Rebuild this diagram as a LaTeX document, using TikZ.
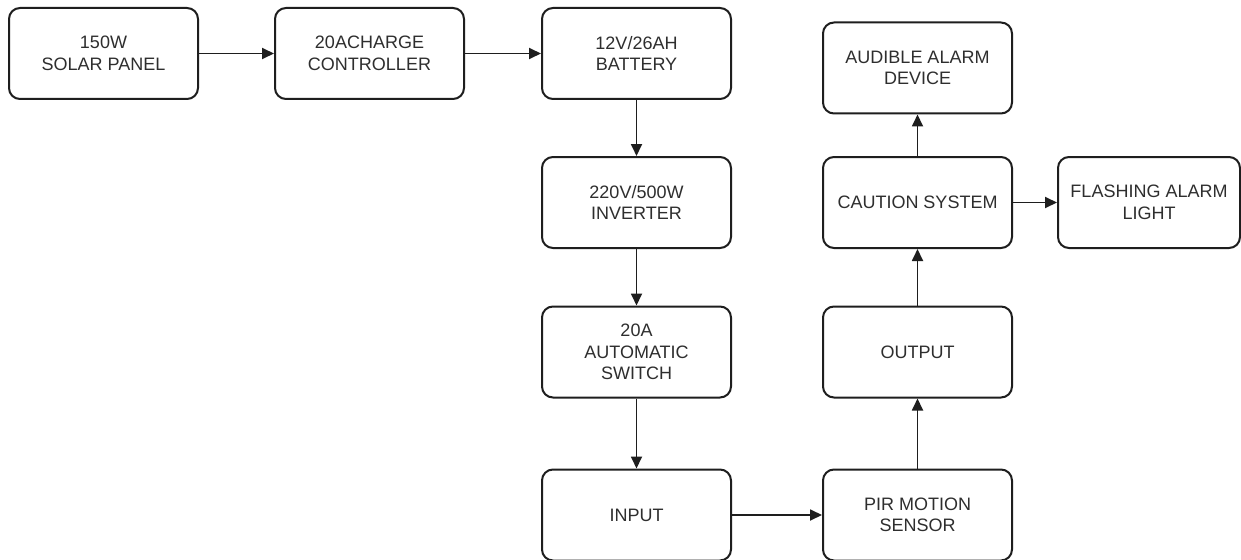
\documentclass[tikz,border=0pt]{standalone}
\usepackage{fontspec}
\setmainfont{Liberation Sans}
\usetikzlibrary{arrows.meta}
\definecolor{txt}{HTML}{2E2E2E}
\definecolor{ln}{HTML}{1E1E1E}
\begin{document}
\begin{tikzpicture}[x=1pt,y=-1pt,
  blk/.style={draw=ln, line width=2pt, rounded corners=11pt, minimum width=189pt, minimum height=91pt,
    align=center, text=txt, font=\fontsize{18}{21.5}\selectfont, inner sep=2pt},
  arr/.style={draw=ln, line width=1.8pt, -{Triangle[length=12pt,width=11pt]}}]
\useasboundingbox (0,0) rectangle (1241,559);
\fill[white] (0,0) rectangle (1241,559);
\node[blk] (solar) at (103.5,53.5) {150W\\SOLAR PANEL};
\node[blk] (ctrl) at (369.5,53.5) {20ACHARGE\\CONTROLLER};
\node[blk] (batt) at (636.5,53.5) {12V/26AH\\BATTERY};
\node[blk] (inv) at (636.5,202.5) {220V/500W\\INVERTER};
\node[blk] (sw) at (636.5,352) {20A\\AUTOMATIC\\SWITCH};
\node[blk] (in) at (636.5,515) {INPUT};
\node[blk] (pir) at (917.5,515) {PIR MOTION\\SENSOR};
\node[blk] (out) at (917.5,352) {OUTPUT};
\node[blk] (caut) at (917.5,202.5) {CAUTION SYSTEM};
\node[blk] (aud) at (917.5,68) {AUDIBLE ALARM\\DEVICE};
\node[blk, minimum width=182pt] (flash) at (1149,202.5) {FLASHING ALARM\\LIGHT};
\draw[arr] (solar) -- (ctrl);
\draw[arr] (ctrl) -- (batt);
\draw[arr] (batt) -- (inv);
\draw[arr] (inv) -- (sw);
\draw[arr] (sw) -- (in);
\draw[arr] (in) -- (pir);
\draw[arr] (pir) -- (out);
\draw[arr] (out) -- (caut);
\draw[arr] (caut) -- (aud);
\draw[arr] (caut) -- (flash);
\end{tikzpicture}
\end{document}
